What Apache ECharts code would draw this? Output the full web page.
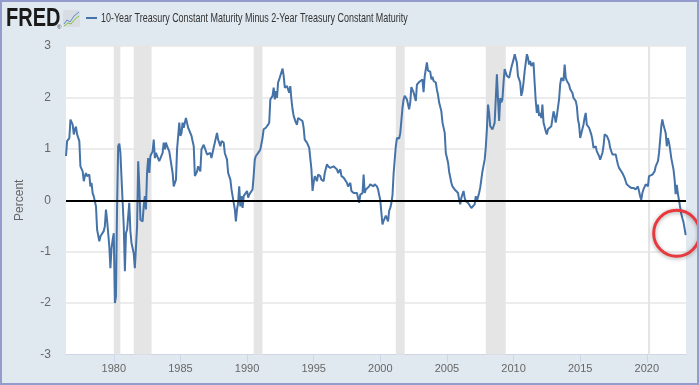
<!DOCTYPE html>
<html><head><meta charset="utf-8">
<script src="https://cdn.jsdelivr.net/npm/echarts@6/dist/echarts.min.js"></script>
<style>
html,body{margin:0;padding:0;background:#e1e9f0;}
#c{position:absolute;left:0;top:0;width:699px;height:385px;}
#b{position:absolute;left:0;top:0;width:699px;height:385px;box-sizing:border-box;border:2px solid #949cce;pointer-events:none;}
</style></head><body>
<div id="c"></div><div id="b"></div>
<script>
const seriesName = '10-Year Treasury Constant Maturity Minus 2-Year Treasury Constant Maturity';
const yAxisName = 'Percent';
const xTickYears = [1980, 1985, 1990, 1995, 2000, 2005, 2010, 2015, 2020];
const yTicks = [-3, -2, -1, 0, 1, 2, 3];
const recessionStart = ['1980-01', '1981-07', '1990-07', '2001-03', '2007-12', '2020-02'];
const recessionEnd   = ['1980-07', '1982-11', '1991-03', '2001-11', '2009-06', '2020-04'];
const months = [
 '1976-06','1976-07','1976-09','1976-10','1976-12',
 '1977-01','1977-02','1977-03','1977-04','1977-06','1977-07','1977-09','1977-10','1977-11','1977-12',
 '1978-01','1978-03','1978-04','1978-05','1978-06','1978-07','1978-09','1978-10','1978-12',
 '1979-01','1979-02','1979-04','1979-05','1979-06','1979-07','1979-09','1979-10','1979-11','1979-12',
 '1980-01','1980-02','1980-03','1980-04','1980-05','1980-06','1980-07','1980-09','1980-10','1980-11','1980-12',
 '1981-01','1981-03','1981-04','1981-05','1981-06','1981-07','1981-08','1981-10','1981-11','1981-12',
 '1982-01','1982-03','1982-04','1982-05','1982-06','1982-07','1982-08','1982-09','1982-10','1982-11','1982-12',
 '1983-01','1983-02','1983-03','1983-04','1983-06','1983-07','1983-09','1983-10','1983-11','1983-12',
 '1984-01','1984-03','1984-04','1984-06','1984-07','1984-09','1984-10','1984-12',
 '1985-01','1985-02','1985-03','1985-04','1985-06','1985-07','1985-08','1985-09','1985-11',
 '1986-01','1986-02','1986-04','1986-05','1986-07','1986-08','1986-10','1986-11',
 '1987-01','1987-02','1987-04','1987-05','1987-07','1987-08','1987-10','1987-11',
 '1988-01','1988-02','1988-04','1988-05','1988-07','1988-08','1988-10','1988-11',
 '1989-01','1989-02','1989-03','1989-04','1989-05','1989-06','1989-07','1989-08','1989-09','1989-10','1989-11',
 '1990-01','1990-02','1990-03','1990-04','1990-06','1990-07','1990-08','1990-09','1990-10','1990-12',
 '1991-01','1991-02','1991-03','1991-04','1991-06','1991-07','1991-08','1991-09','1991-10','1991-12',
 '1992-01','1992-02','1992-03','1992-04','1992-05','1992-06','1992-07','1992-09','1992-10','1992-11','1992-12',
 '1993-01','1993-03','1993-04','1993-05','1993-06','1993-07','1993-09','1993-10','1993-11','1993-12',
 '1994-01','1994-03','1994-04','1994-05','1994-06','1994-07','1994-09','1994-10','1994-11','1994-12',
 '1995-01','1995-02','1995-04','1995-05','1995-07','1995-08','1995-10','1995-11',
 '1996-01','1996-02','1996-04','1996-05','1996-07','1996-08','1996-10','1996-11',
 '1997-01','1997-02','1997-04','1997-05','1997-07','1997-08','1997-10','1997-11',
 '1998-01','1998-02','1998-04','1998-05','1998-06','1998-07','1998-09','1998-10','1998-11','1998-12',
 '1999-01','1999-03','1999-04','1999-05','1999-07','1999-08','1999-10','1999-11','1999-12',
 '2000-01','2000-02','2000-03','2000-04','2000-05','2000-06','2000-07','2000-08','2000-09','2000-10','2000-11','2000-12',
 '2001-01','2001-02','2001-03','2001-04','2001-06','2001-07','2001-08','2001-09','2001-10','2001-11','2001-12',
 '2002-01','2002-03','2002-04','2002-05','2002-06','2002-07','2002-09','2002-10','2002-11','2002-12',
 '2003-01','2003-03','2003-04','2003-05','2003-06','2003-07','2003-08','2003-10','2003-11','2003-12',
 '2004-01','2004-03','2004-04','2004-05','2004-06','2004-08','2004-09','2004-11','2004-12',
 '2005-02','2005-03','2005-05','2005-06','2005-08','2005-09','2005-11','2005-12',
 '2006-01','2006-02','2006-04','2006-05','2006-06','2006-08','2006-09','2006-11','2006-12',
 '2007-02','2007-03','2007-04','2007-06','2007-07','2007-08','2007-09','2007-11','2007-12',
 '2008-01','2008-02','2008-03','2008-04','2008-06','2008-07','2008-08','2008-09','2008-10','2008-11','2008-12',
 '2009-01','2009-02','2009-03','2009-04','2009-05','2009-07','2009-08','2009-09','2009-10','2009-11',
 '2010-01','2010-02','2010-03','2010-04','2010-05','2010-07','2010-08','2010-09','2010-10','2010-11',
 '2011-01','2011-02','2011-03','2011-04','2011-05','2011-07','2011-08','2011-09','2011-10','2011-11','2011-12',
 '2012-01','2012-02','2012-03','2012-04','2012-06','2012-07','2012-08','2012-09','2012-11','2012-12',
 '2013-01','2013-02','2013-03','2013-04','2013-06','2013-07','2013-08','2013-10','2013-11','2013-12',
 '2014-01','2014-03','2014-04','2014-06','2014-07','2014-09','2014-10','2014-11','2014-12',
 '2015-01','2015-03','2015-04','2015-05','2015-06','2015-07','2015-09','2015-10','2015-11','2015-12',
 '2016-01','2016-03','2016-04','2016-05','2016-06','2016-07','2016-09','2016-10','2016-11','2016-12',
 '2017-01','2017-03','2017-04','2017-05','2017-06','2017-07','2017-09','2017-10','2017-11','2017-12',
 '2018-01','2018-03','2018-04','2018-05','2018-06','2018-07','2018-09','2018-10','2018-11','2018-12',
 '2019-01','2019-03','2019-04','2019-05','2019-06','2019-07','2019-08','2019-09','2019-10','2019-12',
 '2020-01','2020-02','2020-03','2020-04','2020-06','2020-07','2020-08','2020-09','2020-11','2020-12',
 '2021-01','2021-02','2021-03','2021-04','2021-06','2021-07','2021-08','2021-09','2021-10','2021-11',
 '2022-01','2022-02','2022-03','2022-04','2022-05','2022-06','2022-08','2022-09','2022-10','2022-11','2022-12'
];
const spread = [
 0.86,1.15,1.21,1.57,1.47,
 1.28,1.38,1.43,1.28,1.15,0.66,0.56,0.37,0.47,0.53,
 0.47,0.50,0.27,0.34,0.14,0.08,-0.12,-0.57,-0.80,
 -0.70,-0.73,-0.60,-0.51,-0.18,-0.38,-0.90,-1.32,-0.93,-0.77,
 -0.64,-2.00,-1.87,-0.12,1.05,1.10,0.92,-0.05,-0.51,-1.38,-0.64,
 -0.57,-0.05,-0.60,-0.83,-0.86,-1.03,-1.32,-0.51,0.76,0.27,
 -0.38,-0.41,-0.12,0.08,-0.18,0.53,0.82,0.53,0.86,0.89,0.95,
 1.18,0.82,0.92,0.95,0.76,0.73,0.92,1.12,0.99,1.12,
 1.05,0.95,0.92,0.53,0.27,0.40,0.99,1.51,
 1.25,1.31,1.51,1.41,1.60,1.51,1.41,1.41,1.25,
 1.05,0.47,0.56,0.66,0.56,0.99,1.08,1.05,
 0.89,0.86,0.92,0.82,1.02,1.05,1.31,1.18,
 1.05,1.15,1.12,0.92,0.79,0.53,0.40,0.21,
 -0.05,-0.18,-0.41,-0.18,-0.05,0.27,-0.12,0.08,-0.15,0.08,0.05,
 0.18,0.05,0.11,0.08,0.21,0.47,0.79,0.86,0.86,0.95,
 0.99,1.02,1.21,1.38,1.41,1.44,1.47,1.51,1.96,2.03,
 2.19,1.96,2.12,1.99,2.29,2.35,2.42,2.56,2.42,2.19,2.16,
 2.22,2.09,2.22,1.96,1.77,1.64,1.51,1.47,1.60,1.57,
 1.57,1.54,1.41,1.18,1.15,1.12,1.02,0.99,0.60,0.18,
 0.35,0.47,0.37,0.50,0.47,0.40,0.37,0.53,
 0.70,0.66,0.63,0.60,0.66,0.63,0.60,0.53,
 0.60,0.47,0.44,0.44,0.34,0.27,0.34,0.18,
 0.14,0.11,0.14,0.05,-0.05,0.11,0.14,0.50,0.14,0.21,
 0.18,0.27,0.31,0.31,0.27,0.31,0.27,0.21,0.21,
 0.00,-0.25,-0.47,-0.40,-0.38,-0.30,-0.28,-0.41,-0.20,-0.15,-0.05,0.10,
 0.53,0.55,1.05,1.21,1.20,1.30,1.55,1.80,1.96,2.03,2.06,
 1.96,1.77,1.90,2.20,2.22,2.10,1.93,2.25,2.22,2.30,
 2.32,2.35,2.10,2.40,2.55,2.68,2.52,2.50,2.35,2.40,
 2.32,2.29,2.15,2.05,1.90,1.73,1.51,1.31,0.92,
 0.73,0.56,0.34,0.27,0.21,0.18,0.14,0.01,
 -0.08,0.05,0.18,0.05,-0.02,-0.05,-0.08,-0.15,-0.12,
 -0.08,0.08,-0.02,0.14,0.24,0.40,0.56,0.79,1.02,
 1.38,1.86,1.70,1.44,1.38,1.44,1.51,1.99,2.45,1.96,1.54,
 1.99,1.90,1.96,2.29,2.55,2.42,2.42,2.38,2.48,2.58,
 2.74,2.84,2.84,2.68,2.42,2.29,2.03,2.12,2.29,2.51,
 2.84,2.77,2.64,2.71,2.61,2.68,2.29,1.93,1.70,1.86,1.64,
 1.70,1.60,1.86,1.51,1.34,1.28,1.38,1.38,1.44,1.41,
 1.73,1.64,1.51,1.64,1.96,2.25,2.38,2.32,2.64,2.38,
 2.32,2.25,2.16,2.09,1.99,1.93,1.83,1.57,1.47,
 1.21,1.38,1.47,1.60,1.70,1.47,1.41,1.38,1.28,1.18,
 1.02,1.05,0.95,0.92,0.86,0.79,0.92,1.05,1.28,1.28,
 1.25,1.15,1.02,1.05,0.89,0.86,0.89,0.79,0.69,0.63,
 0.66,0.53,0.50,0.44,0.37,0.31,0.27,0.27,0.24,0.21,
 0.24,0.21,0.24,0.27,0.18,0.08,0.01,0.14,0.21,0.31,
 0.34,0.27,0.47,0.50,0.50,0.53,0.56,0.66,0.76,0.92,
 1.18,1.44,1.57,1.47,1.31,1.05,1.21,1.12,0.99,0.82,
 0.60,0.40,0.12,0.30,0.13,0.00,-0.26,-0.35,-0.42,-0.55,-0.68
];

const FONT = "'Liberation Sans', Arial, sans-serif";
function ts(s) { const a = s.split('-'); return Date.UTC(+a[0], +a[1] - 1, a[2] ? +a[2] : 1); }
const seriesData = months.map((m, i) => [ts(m), spread[i]]);
const areas = recessionStart.map((s, i) => [{ xAxis: ts(s) }, { xAxis: ts(recessionEnd[i]) }]);
const tickTimes = xTickYears.map(y => Date.UTC(y, 0, 1));

const chart = echarts.init(document.getElementById('c'), null, { renderer: 'canvas' });
const baseGraphic = [
  { type: 'text', x: 6, y: 19, scaleX: 0.8, style: { text: 'FRED', x: 0, y: 0, verticalAlign: 'middle', font: "bold 25px " + FONT, fill: '#1a1a1a' } },
  { type: 'text', x: 57, y: 27, style: { text: '®', x: 0, y: 0, verticalAlign: 'middle', font: "6px " + FONT, fill: '#333' } },
  { type: 'rect', shape: { x: 63, y: 10, width: 17, height: 17, r: 2 }, style: { fill: '#d8dde4' } },
  { type: 'polyline', shape: { points: [[64, 24], [67, 20], [70, 22], [74, 16], [79, 12]] }, style: { stroke: '#5b8bc9', lineWidth: 1, fill: null } },
  { type: 'polyline', shape: { points: [[64, 26], [68, 23], [71, 24], [75, 19], [79, 16]] }, style: { stroke: '#8cbf3f', lineWidth: 1, fill: null } },
  { type: 'rect', shape: { x: 86, y: 17, width: 11, height: 2 }, style: { fill: '#4572a7' } },
  { type: 'text', x: 101, y: 18.5, scaleX: 0.69, style: { text: seriesName, x: 0, y: 0, verticalAlign: 'middle', font: "13px " + FONT, fill: '#333333' } }
];
chart.setOption({
  animation: false,
  backgroundColor: '#e1e9f0',
  grid: { left: 66, right: 13, top: 46, bottom: 30.5, show: true, backgroundColor: '#ffffff', borderWidth: 0 },
  xAxis: {
    type: 'value',
    min: ts('1976-06-01'), max: ts('2022-12-10'),
    splitLine: { show: false },
    axisLine: { onZero: false, lineStyle: { color: '#ccd6eb', width: 1 } },
    axisTick: { show: true, length: 8, lineStyle: { color: '#ccd6eb' }, customValues: tickTimes },
    axisLabel: {
      customValues: tickTimes, color: '#666666', fontSize: 11, fontFamily: FONT, margin: 9,
      formatter: v => String(new Date(v).getUTCFullYear())
    }
  },
  yAxis: {
    type: 'value', min: yTicks[0], max: yTicks[yTicks.length - 1], interval: 1,
    name: yAxisName, nameLocation: 'middle', nameGap: 40, nameRotate: 90,
    nameTextStyle: { color: '#666666', fontSize: 12, fontFamily: FONT },
    axisLine: { show: false }, axisTick: { show: false },
    axisLabel: { color: '#666666', fontSize: 12, fontFamily: FONT, margin: 15 },
    splitLine: { lineStyle: { color: '#e6e6e6', width: 1.5 } }
  },
  series: [{
    name: seriesName, type: 'line', data: seriesData, showSymbol: false, symbol: 'none',
    lineStyle: { color: '#4572a7', width: 2 }, itemStyle: { color: '#4572a7' },
    markArea: { silent: true, itemStyle: { color: '#e5e5e5' }, data: areas },
    markLine: {
      silent: true, symbol: 'none', label: { show: false },
      lineStyle: { color: '#000000', width: 2, type: 'solid' },
      data: [{ yAxis: 0 }]
    },
    z: 3
  }],
  graphic: baseGraphic
});

const last = seriesData[seriesData.length - 1];
const p = chart.convertToPixel({ seriesIndex: 0 }, last);
chart.setOption({
  graphic: baseGraphic.concat([
    { type: 'circle', shape: { cx: p[0] - 9, cy: p[1] - 2, r: 23 }, z: 100,
      style: { fill: null, stroke: '#e8393e', lineWidth: 3, shadowBlur: 4, shadowColor: 'rgba(0,0,0,0.35)', shadowOffsetY: 1 } }
  ])
}, { replaceMerge: ['graphic'] });
</script>
</body></html>
